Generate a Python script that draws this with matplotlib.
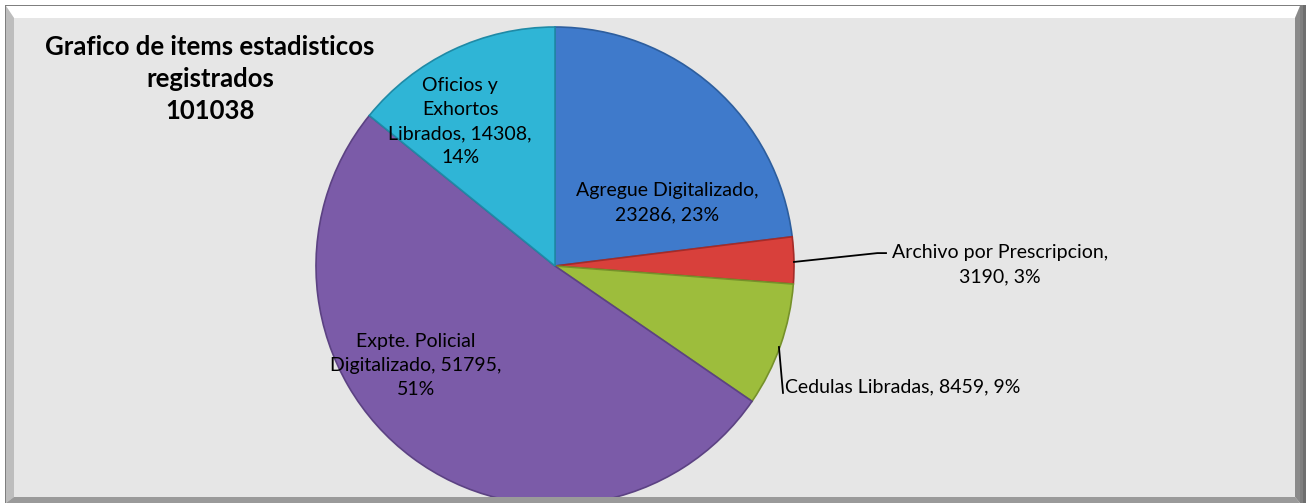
import matplotlib
matplotlib.use("Agg")
import matplotlib.pyplot as plt
from matplotlib.patches import Polygon, Rectangle

# ---- data ----
categories = ["Agregue Digitalizado", "Archivo por Prescripcion", "Cedulas Libradas",
              "Expte. Policial Digitalizado", "Oficios y Exhortos Librados"]
values = [23286, 3190, 8459, 51795, 14308]
percents = [23, 3, 9, 51, 14]
label_texts = ["Agregue Digitalizado,\n23286, 23%",
               "Archivo por Prescripcion,\n3190, 3%",
               "Cedulas Libradas, 8459, 9%",
               "Expte. Policial\nDigitalizado, 51795,\n51%",
               "Oficios y\nExhortos\nLibrados, 14308,\n14%"]
title_text = "Grafico de items estadisticos\nregistrados\n101038"

# ---- style ----
colors = ["#3f7acb", "#d8403b", "#9dbd3c", "#7b5ba8", "#2fb5d6"]
edges = ["#2d5e9e", "#a52b28", "#76912a", "#5c4283", "#1f8aa6"]
label_pos = [(0.469, 0.264, "center", "center"),
             (1.862, 0.006, "center", "center"),
             (0.962, -0.506, "left", "center"),
             (-0.582, -0.418, "center", "center"),
             (-0.397, 0.603, "center", "center")]
leaders = {1: [(1.0, 0.017), (1.349, 0.054), (1.385, 0.054)],
           2: [(0.937, -0.339), (0.954, -0.531)]}

W, H = 1306, 503
fig = plt.figure(figsize=(W / 100, H / 100), dpi=100, facecolor="white")
FONT = "Lato"

# background axes in pixel coordinates
bg = fig.add_axes([0, 0, 1, 1], zorder=0)
bg.set_xlim(0, W); bg.set_ylim(H, 0); bg.axis("off")
bg.add_patch(Rectangle((5, 5), W - 5, H - 5, facecolor="#7f7f7f", edgecolor="none"))
bg.add_patch(Rectangle((6, 6), W - 12, H - 6, facecolor="#e6e6e6", edgecolor="none"))
bg.text(210, 79, title_text, ha="center", va="center", fontsize=18.5, fontweight="bold",
        family=FONT, linespacing=1.4, color="#000000")

# pie axes
cx, cy, R = 555, 266, 239
pie_ax = fig.add_axes([(cx - R) / W, (H - cy - R) / H, 2 * R / W, 2 * R / H], zorder=1)
pie_ax.set_xlim(-1, 1); pie_ax.set_ylim(-1, 1); pie_ax.axis("off")
wedges, _ = pie_ax.pie(values, colors=colors, startangle=90, counterclock=False, radius=1,
                       wedgeprops=dict(linewidth=1.2), frame=False)
pie_ax.set_xlim(-1, 1); pie_ax.set_ylim(-1, 1)
for w, ec in zip(wedges, edges):
    w.set_edgecolor(ec)

for i, (txt, (lx, ly, ha, va)) in enumerate(zip(label_texts, label_pos)):
    pie_ax.text(lx, ly, txt, ha=ha, va=va, fontsize=14, family=FONT, linespacing=1.5,
                color="#000000", clip_on=False)
for k, pts in leaders.items():
    xs = [p[0] for p in pts]; ys = [p[1] for p in pts]
    pie_ax.plot(xs, ys, color="black", lw=1.3, clip_on=False)

# overlay bevels
ov = fig.add_axes([0, 0, 1, 1], zorder=2)
ov.set_xlim(0, W); ov.set_ylim(H, 0); ov.axis("off"); ov.patch.set_alpha(0)
ov.add_patch(Polygon([(6, 6), (W - 6, 6), (W - 11, 18), (14, 18)], closed=True,
                     facecolor="#ffffff", edgecolor="none"))
ov.add_patch(Polygon([(6, 6), (14, 18), (14, 497), (6, H)], closed=True,
                     facecolor="#bdbdbd", edgecolor="none"))
ov.add_patch(Polygon([(W - 6, 6), (W - 11, 18), (W - 11, 497), (W - 6, H)], closed=True,
                     facecolor="#8a8a8a", edgecolor="none"))
ov.add_patch(Polygon([(6, H), (14, 497), (W - 11, 497), (W - 6, H)], closed=True,
                     facecolor="#9a9a9a", edgecolor="none"))
ov.add_patch(Rectangle((W - 3, 5), 3, H, facecolor="#6e6e6e", edgecolor="none"))

fig.savefig("out.png", dpi=100, facecolor="white")
